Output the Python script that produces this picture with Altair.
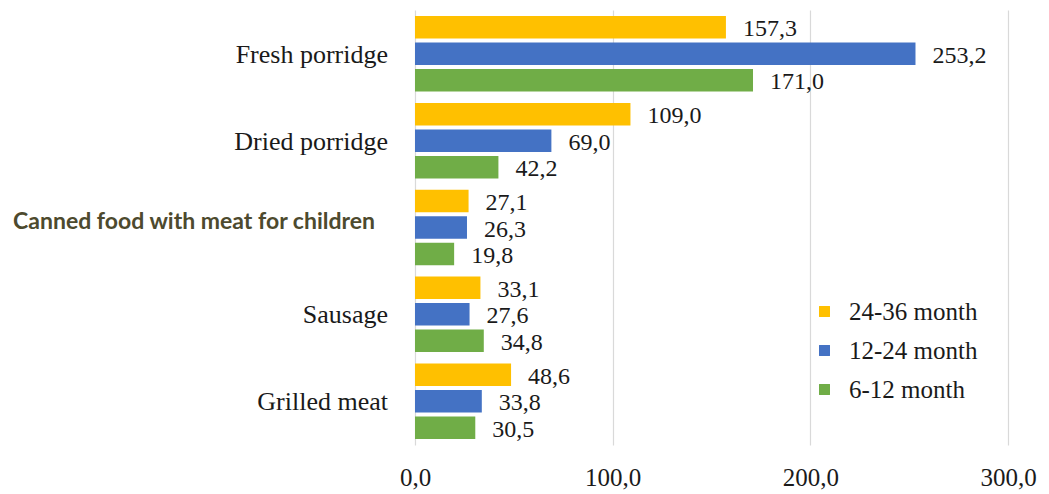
import altair as alt
import pandas as pd

categories = ["Fresh porridge", "Dried porridge", "Canned food with meat for children", "Sausage", "Grilled meat"]
series = ["24-36 month", "12-24 month", "6-12 month"]
v_24_36 = [157.3, 109.0, 27.1, 33.1, 48.6]
v_12_24 = [253.2, 69.0, 26.3, 27.6, 33.8]
v_6_12 = [171.0, 42.2, 19.8, 34.8, 30.5]
colors = ["#FFC000", "#4472C4", "#70AD47"]

rows = []
for s, vals in zip(series, [v_24_36, v_12_24, v_6_12]):
    for c, v in zip(categories, vals):
        rows.append({"cat": c, "series": s, "value": v, "label": f"{v:.1f}".replace(".", ",")})
df = pd.DataFrame(rows)
cat_df = pd.DataFrame({"cat": categories})

SERIF = "'Liberation Serif', 'Times New Roman', Tinos, serif"
CANNED = "Canned food with meat for children"
TXT = "#1a1a1a"

y_scale = alt.Scale(domain=categories, paddingInner=0.13, paddingOuter=0.07)
y_enc = alt.Y("cat:N", sort=categories, title=None, scale=y_scale, axis=None)
yoff = alt.YOffset("series:N", sort=series, scale=alt.Scale(paddingInner=0.15, paddingOuter=0))
x_enc = alt.X("value:Q", title=None, scale=alt.Scale(domain=[0, 300], nice=False),
              axis=alt.Axis(values=[0, 100, 200, 300], ticks=False, domain=False,
                            labelExpr="replace(format(datum.value, '.1f'), '.', ',')",
                            labelFont=SERIF, labelFontSize=25, labelColor=TXT, labelFlush=False,
                            labelPadding=20, gridColor="#d9d9d9", gridWidth=1.2))

base = alt.Chart(df)
bars = base.mark_bar().encode(
    x=x_enc, y=y_enc, yOffset=yoff,
    color=alt.Color("series:N", sort=series, scale=alt.Scale(domain=series, range=colors),
                    legend=alt.Legend(title=None, orient="none", legendX=397, legendY=289,
                                      symbolType="square", symbolSize=120, symbolStrokeWidth=0,
                                      labelFont=SERIF, labelFontSize=25, labelColor=TXT,
                                      labelOffset=12, rowPadding=13, symbolOpacity=1)))
texts = base.mark_text(align="left", dx=17, dy=2, font=SERIF, fontSize=24, color=TXT).encode(
    x="value:Q", y=alt.Y("cat:N", sort=categories, scale=y_scale),
    yOffset=alt.YOffset("series:N", sort=series), text="label:N")

cat_base = alt.Chart(cat_df)
serif_labels = cat_base.transform_filter(f"datum.cat != '{CANNED}'").mark_text(
    align="right", baseline="middle", font=SERIF, fontSize=26, color=TXT, dy=1).encode(
    x=alt.value(-27), y=alt.Y("cat:N", sort=categories, scale=y_scale), text="cat:N")
canned_label = cat_base.transform_filter(f"datum.cat == '{CANNED}'").mark_text(
    align="right", baseline="middle", font="Lato", fontWeight="bold", fontSize=23,
    color="#4D4A2E", dy=-6).encode(
    x=alt.value(-40), y=alt.Y("cat:N", sort=categories, scale=y_scale), text="cat:N")

chart = alt.layer(bars, texts, serif_labels, canned_label).properties(
    width=593, height=435,
    autosize=alt.AutoSizeParams(type="none"),
    padding={"left": 415, "top": 10, "right": 41, "bottom": 49},
    background="white",
).configure_view(stroke=None)

chart.save("out.html", embed_options={"renderer": "svg", "actions": False})
